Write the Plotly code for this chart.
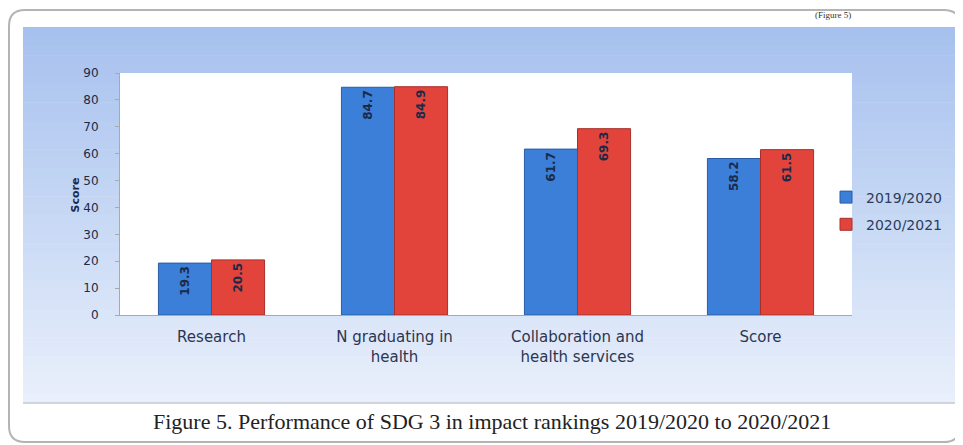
import plotly.graph_objects as go

# ---- data ----
categories = ["Research", "N graduating in<br>health", "Collaboration and<br>health services", "Score"]
series_names = ["2019/2020", "2020/2021"]
values_2019_2020 = [19.3, 84.7, 61.7, 58.2]
values_2020_2021 = [20.5, 84.9, 69.3, 61.5]
y_ticks = [0, 10, 20, 30, 40, 50, 60, 70, 80, 90]
caption = "Figure 5. Performance of SDG 3 in impact rankings 2019/2020 to 2020/2021"

# page body has an 8px margin; build the figure in page coordinates shifted by OFF
OFF = 8
W, H = 963 - OFF, 445 - OFF
PL, PR, PT, PB = 120, 852, 73, 315          # plot area in page pixels
L, R, T, B = PL - OFF, W - (PR - OFF), PT - OFF, H - (PB - OFF)
PW, PH = W - L - R, H - T - B

def px(x):   # page pixel -> paper
    return (x - OFF - L) / PW

def py(y):
    return (H - B - (y - OFF)) / PH

lab_font = dict(family="DejaVu Sans", size=12, color="#1b2a48")

fig = go.Figure()
fig.add_trace(go.Bar(
    x=categories, y=values_2019_2020, name=series_names[0],
    marker=dict(color="#3c7fd9", line=dict(color="#2a5ca6", width=1)),
    texttemplate="<b>%{y:.1f}</b>", textposition="inside", insidetextanchor="end",
    textangle=-90, textfont=lab_font, legendgroup="a",
))
fig.add_trace(go.Bar(
    x=categories, y=values_2020_2021, name=series_names[1],
    marker=dict(color="#e2443b", line=dict(color="#a8302b", width=1)),
    texttemplate="<b>%{y:.1f}</b>", textposition="inside", insidetextanchor="end",
    textangle=-90, textfont=lab_font, legendgroup="b",
))

shapes = []
# outer frame
x0, y0, x1, y1, r = 9, 10, 960, 442, 16
path = (f"M {px(x0+r)},{py(y0)} L {px(x1-r)},{py(y0)} Q {px(x1)},{py(y0)} {px(x1)},{py(y0+r)} "
        f"L {px(x1)},{py(y1-r)} Q {px(x1)},{py(y1)} {px(x1-r)},{py(y1)} "
        f"L {px(x0+r)},{py(y1)} Q {px(x0)},{py(y1)} {px(x0)},{py(y1-r)} "
        f"L {px(x0)},{py(y0+r)} Q {px(x0)},{py(y0)} {px(x0+r)},{py(y0)} Z")
shapes.append(dict(type="path", xref="paper", yref="paper", path=path,
                   fillcolor="white", line=dict(color="#b4b4b4", width=2), layer="below"))

# gradient panel
stops = [(27, (166, 192, 238)), (200, (196, 214, 244)), (403, (234, 240, 251))]
def col(y):
    for (ya, ca), (yb, cb) in zip(stops[:-1], stops[1:]):
        if ya <= y <= yb:
            t = (y - ya) / (yb - ya)
            c = [round(a + (b - a) * t) for a, b in zip(ca, cb)]
            return f"rgb({c[0]},{c[1]},{c[2]})"
    return "rgb(234,240,251)"

n = 40
top, bot = 27, 403
step = (bot - top) / n
for i in range(n):
    ya = top + i * step
    yb = ya + step + 0.6
    shapes.append(dict(type="rect", xref="paper", yref="paper",
                       x0=px(23), x1=px(955), y0=py(min(yb, bot)), y1=py(ya),
                       fillcolor=col(ya + step / 2), line=dict(width=0), layer="below"))
shapes.append(dict(type="line", xref="paper", yref="paper", x0=px(23), x1=px(955),
                   y0=py(403), y1=py(403), line=dict(color="#c3c9d3", width=1.5), layer="below"))
# plot area
shapes.append(dict(type="rect", xref="paper", yref="paper", x0=0, x1=1, y0=0, y1=1,
                   fillcolor="white", line=dict(width=0), layer="below"))

annotations = [
    dict(text="<b>Score</b>", x=px(66), y=py(195), xref="paper", yref="paper", textangle=-90,
         showarrow=False, font=dict(family="DejaVu Sans", size=11, color="#1b2a48")),
    dict(text=caption, x=px(492), y=py(421), xref="paper", yref="paper", showarrow=False,
         xanchor="center", yanchor="middle",
         font=dict(family="Liberation Serif", size=22, color="#222222")),
    dict(text="(Figure 5)", x=px(852), y=py(9), xref="paper", yref="paper", yanchor="top",
         showarrow=False, borderpad=0,
         font=dict(family="Liberation Serif", size=9, color="#333333")),
]

fig.update_layout(
    width=W, height=H,
    margin=dict(l=L, r=R, t=T, b=B, autoexpand=False),
    paper_bgcolor="white", plot_bgcolor="rgba(0,0,0,0)",
    barmode="group", bargap=0.42, bargroupgap=0,
    shapes=shapes, annotations=annotations,
    legend=dict(x=px(826), y=py(211), xanchor="left", yanchor="middle",
                bgcolor="rgba(0,0,0,0)", font=dict(family="DejaVu Sans", size=14, color="#2d3d5a"),
                tracegroupgap=6, itemwidth=30),
    showlegend=True,
)
fig.update_xaxes(showgrid=False, showline=True, linecolor="#a9a9a9", linewidth=1,
                 ticks="", ticklabelstandoff=8,
                 tickfont=dict(family="DejaVu Sans", size=15, color="#2b3650"))
fig.update_yaxes(range=[0, 90], tickvals=y_ticks, showgrid=False, zeroline=False,
                 showline=True, linecolor="#a9a9a9", linewidth=1,
                 ticks="outside", ticklen=4, tickcolor="#a9a9a9", ticklabelstandoff=14,
                 tickfont=dict(family="DejaVu Sans", size=12, color="#1b2a48"))

fig.write_html("out.html")
